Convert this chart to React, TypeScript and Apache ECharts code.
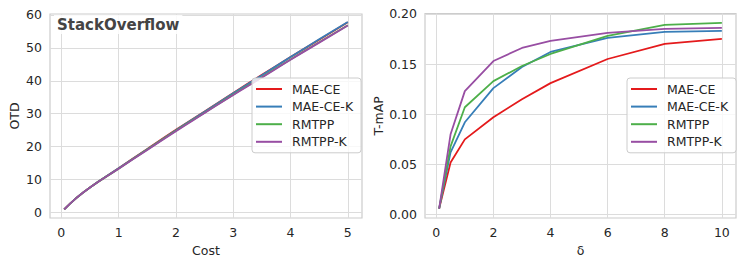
import React, { useEffect, useRef } from "react";
import * as echarts from "echarts";

const seriesNames = ["MAE-CE", "MAE-CE-K", "RMTPP", "RMTPP-K"];
const colors = ["#e41a1c", "#377eb8", "#4daf4a", "#984ea3"];

// Left panel: OTD vs Cost
const costX = [0.05, 0.25, 0.5, 1, 1.5, 2, 2.5, 3, 3.5, 4, 4.5, 5];
const otdMaeCe = [0.9, 4.2, 7.6, 13.4, 19.3, 25.1, 30.7, 36.3, 41.8, 47.2, 52.5, 57.8];
const otdMaeCeK = [0.9, 4.2, 7.6, 13.4, 19.2, 25.0, 30.6, 36.2, 41.7, 47.2, 52.6, 57.9];
const otdRmtpp = [0.9, 4.2, 7.6, 13.3, 19.1, 24.8, 30.3, 35.8, 41.1, 46.5, 51.7, 56.9];
const otdRmtppK = [0.9, 4.2, 7.6, 13.3, 19.0, 24.7, 30.2, 35.7, 41.0, 46.4, 51.6, 56.8];
const costTicks = [0, 1, 2, 3, 4, 5];
const otdTicks = [0, 10, 20, 30, 40, 50, 60];

// Right panel: T-mAP vs delta
const deltaX = [0.1, 0.5, 1, 2, 3, 4, 6, 8, 10];
const tmapMaeCe = [0.006, 0.052, 0.075, 0.097, 0.115, 0.131, 0.155, 0.170, 0.175];
const tmapMaeCeK = [0.006, 0.062, 0.092, 0.126, 0.147, 0.162, 0.176, 0.182, 0.183];
const tmapRmtpp = [0.006, 0.068, 0.107, 0.133, 0.148, 0.160, 0.178, 0.189, 0.191];
const tmapRmtppK = [0.006, 0.080, 0.123, 0.153, 0.166, 0.173, 0.181, 0.185, 0.186];
const deltaTicks = [0, 2, 4, 6, 8, 10];
const tmapTicks = [0, 0.05, 0.1, 0.15, 0.2];

const FONT = "DejaVu Sans";
const TEXT = "#262626";
const GRIDC = "#dcdcdc";

function zip(xs: number[], ys: number[]) {
  return xs.map((x, i) => [x, ys[i]]);
}

export default function App() {
  const ref = useRef<HTMLDivElement>(null);
  useEffect(() => {
    if (!ref.current) return;
    document.body.style.margin = "0";
    const chart = echarts.init(ref.current, null, { renderer: "svg" });
    const axisCommon = (ticks: number[], fmt?: (v: number) => string) => ({
      type: "value" as const,
      axisLine: { show: false },
      axisTick: { show: false, customValues: ticks },
      axisLabel: {
        customValues: ticks,
        color: TEXT,
        fontSize: 12.5,
        fontFamily: FONT,
        formatter: fmt,
      },
      splitLine: { show: true, lineStyle: { color: GRIDC, width: 1 } },
      nameTextStyle: { color: TEXT, fontSize: 12.5, fontFamily: FONT },
    });
    const leftData = [otdMaeCe, otdMaeCeK, otdRmtpp, otdRmtppK];
    const rightData = [tmapMaeCe, tmapMaeCeK, tmapRmtpp, tmapRmtppK];
    const series: any[] = [];
    seriesNames.forEach((n, i) => {
      series.push({
        type: "line",
        name: n,
        xAxisIndex: 0,
        yAxisIndex: 0,
        data: zip(costX, leftData[i]),
        smooth: true,
        showSymbol: false,
        lineStyle: { color: colors[i], width: 1.8 },
        itemStyle: { color: colors[i] },
      });
    });
    seriesNames.forEach((n, i) => {
      series.push({
        type: "line",
        name: n,
        xAxisIndex: 1,
        yAxisIndex: 1,
        data: zip(deltaX, rightData[i]),
        showSymbol: false,
        lineStyle: { color: colors[i], width: 1.8 },
        itemStyle: { color: colors[i] },
      });
    });
    const legendCommon = {
      orient: "vertical" as const,
      data: seriesNames,
      icon: "rect",
      itemWidth: 26,
      itemHeight: 2,
      itemGap: 3.6,
      padding: [4, 8, 4, 4],
      backgroundColor: "rgba(255,255,255,0.8)",
      borderColor: "#cccccc",
      borderWidth: 1,
      borderRadius: 3,
      selectedMode: false,
      textStyle: {
        color: TEXT,
        fontSize: 12.5,
        fontFamily: FONT,
        lineHeight: 14,
        padding: [0, 0, 0, 5],
      },
    };
    chart.setOption({
      animation: false,
      backgroundColor: "#ffffff",
      title: {
        text: "StackOverflow",
        left: 54,
        top: 15,
        padding: [2, 3, 2, 3],
        backgroundColor: "rgba(255,255,255,0.85)",
        textStyle: { fontSize: 15, fontWeight: "bold", color: "#444444", fontFamily: FONT },
      },
      legend: [
        { ...legendCommon, left: 252, top: 78 },
        { ...legendCommon, left: 627, top: 78 },
      ],
      grid: [
        { left: 50, top: 14, width: 312, height: 204, show: true, borderColor: "#cccccc", borderWidth: 1.2, backgroundColor: "transparent" },
        { left: 425, top: 13.5, width: 311, height: 204.5, show: true, borderColor: "#cccccc", borderWidth: 1.2, backgroundColor: "transparent" },
      ],
      xAxis: [
        { ...axisCommon(costTicks), gridIndex: 0, min: -0.1975, max: 5.2475, name: "Cost", nameLocation: "middle", nameGap: 22 },
        { ...axisCommon(deltaTicks), gridIndex: 1, min: -0.395, max: 10.495, name: "δ", nameLocation: "middle", nameGap: 22 },
      ],
      yAxis: [
        { ...axisCommon(otdTicks), gridIndex: 0, min: -1.7, max: 60.3, name: "OTD", nameLocation: "middle", nameGap: 29 },
        { ...axisCommon(tmapTicks, (v: number) => v.toFixed(2)), gridIndex: 1, min: -0.0033, max: 0.2003, name: "T-mAP", nameLocation: "middle", nameGap: 40 },
      ],
      series,
    });
    return () => chart.dispose();
  }, []);
  return <div ref={ref} style={{ width: 747, height: 265 }} />;
}
